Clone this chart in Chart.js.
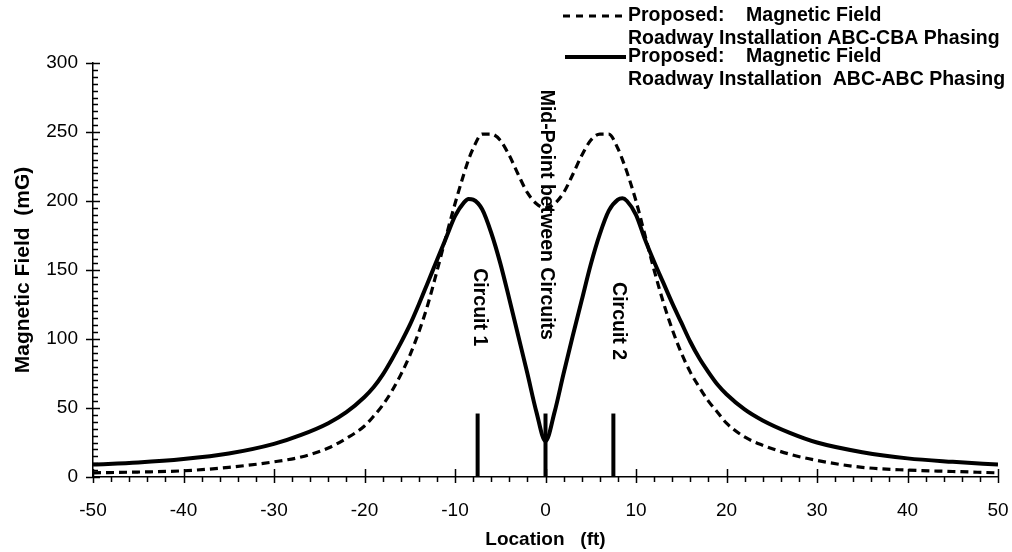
<!DOCTYPE html>
<html>
<head>
<meta charset="utf-8">
<title>Magnetic Field Profile</title>
<script src="https://cdn.jsdelivr.net/npm/chart.js@4.4.1/dist/chart.umd.min.js"></script>
<style>
  html, body { margin: 0; padding: 0; background: #fff; }
  #wrap { width: 1012px; height: 552px; }
</style>
</head>
<body>
<div id="wrap"><canvas id="fieldChart" width="1012" height="552"></canvas></div>
<script>
// distance from the roadway centreline (ft)
const locations = [-50, -45, -40, -35, -30, -27, -24, -22, -20, -19, -18, -17, -16, -15, -14, -13, -12, -11, -10, -9, -8.5, -8, -7, -6, -5, -4, -3, -2, -1, 0,
  1, 2, 3, 4, 5, 6, 7, 8, 8.5, 9, 10, 11, 12, 13, 14, 15, 16, 17, 18, 19, 20, 22, 24, 27, 30, 35, 40, 45, 50];

// ABC-CBA phasing (mG)
const fieldAbcCba = [3, 3.6, 4.5, 7, 11, 14.5, 21, 28, 37, 44, 52, 62, 74, 88, 105, 125, 149, 174, 198, 220, 230, 238, 248.5, 248.5, 244, 233, 219, 206, 198, 195,
  198, 206, 219, 233, 244, 248.5, 248.5, 238, 230, 221, 200, 175, 150, 127, 107, 90, 76, 65, 55, 47, 39, 29, 23, 16.5, 12, 7, 5, 4, 3];

// ABC-ABC phasing (mG)
const fieldAbcAbc = [9, 10.5, 13, 17, 24, 30.5, 39, 47, 58, 65, 74, 85, 97, 110, 125, 141, 157, 173, 189, 199, 201.5, 201, 194, 177, 155, 129, 102, 75, 47, 26,
  47, 75, 102, 128, 154, 176, 193, 201, 202, 200, 190, 172, 156, 141, 126, 112, 98, 86, 76, 67, 60, 49, 41, 32, 25, 18, 13.5, 11, 9];

// circuit centre lines and the mid-point marker
const circuitPositions = [-7.5, 0, 7.5];
const circuitMarkHeight = 46;

const xTickValues = [-50, -40, -30, -20, -10, 0, 10, 20, 30, 40, 50];
const yTickValues = [0, 50, 100, 150, 200, 250, 300];

const legendLines = [
  ['Proposed:    Magnetic Field', 'Roadway Installation ABC-CBA Phasing'],
  ['Proposed:    Magnetic Field', 'Roadway Installation  ABC-ABC Phasing']
];
const circuitLabels = ['Circuit 1', 'Mid-Point between Circuits', 'Circuit 2'];

const FONT = "'Liberation Sans', Arial, Helvetica, sans-serif";

function toPoints(xs, ys) {
  return xs.map((x, i) => ({ x: x, y: ys[i] }));
}

const datasets = [
  {
    label: 'ABC-CBA',
    data: toPoints(locations, fieldAbcCba),
    borderColor: '#000',
    borderWidth: 3.2,
    borderDash: [8, 5],
    pointRadius: 0,
    cubicInterpolationMode: 'monotone',
    fill: false
  },
  {
    label: 'ABC-ABC',
    data: toPoints(locations, fieldAbcAbc),
    borderColor: '#000',
    borderWidth: 4,
    pointRadius: 0,
    cubicInterpolationMode: 'monotone',
    fill: false
  }
];

circuitPositions.forEach((pos, i) => {
  datasets.push({
    label: 'marker' + i,
    data: [{ x: pos, y: 0 }, { x: pos, y: circuitMarkHeight }],
    borderColor: '#000',
    borderWidth: 4,
    pointRadius: 0,
    tension: 0,
    fill: false
  });
});

// tick marks crossing the axes plus minor ticks
const axisTicks = {
  id: 'axisTicks',
  afterDraw(chart) {
    const ctx = chart.ctx;
    const xs = chart.scales.x, ys = chart.scales.y;
    const ax = xs.left, ay = ys.bottom;
    ctx.save();
    ctx.strokeStyle = '#000';
    ctx.lineWidth = 1.5;
    ctx.beginPath();
    for (let v = -50; v <= 50; v += 2) {
      const px = Math.round(xs.getPixelForValue(v)) + 0.5;
      ctx.moveTo(px, ay - 1);
      ctx.lineTo(px, ay + 5);
    }
    xTickValues.forEach(v => {
      const px = Math.round(xs.getPixelForValue(v)) + 0.5;
      ctx.moveTo(px, ay - 8);
      ctx.lineTo(px, ay + 6);
    });
    for (let v = 0; v <= 300; v += 5) {
      const py = Math.round(ys.getPixelForValue(v)) + 0.5;
      ctx.moveTo(ax, py);
      ctx.lineTo(ax + 5, py);
    }
    yTickValues.forEach(v => {
      const py = Math.round(ys.getPixelForValue(v)) + 0.5;
      ctx.moveTo(ax - 7, py);
      ctx.lineTo(ax + 7, py);
    });
    ctx.stroke();
    ctx.restore();
  }
};

// vertical labels for the circuits and the mid-point
const circuitText = {
  id: 'circuitText',
  afterDatasetsDraw(chart) {
    const ctx = chart.ctx;
    const xs = chart.scales.x, ys = chart.scales.y;
    const spots = [[-7.3, 123], [0.15, 190], [8.1, 113]];
    ctx.save();
    ctx.fillStyle = '#000';
    ctx.font = 'bold 19.5px ' + FONT;
    ctx.textAlign = 'center';
    ctx.textBaseline = 'middle';
    circuitLabels.forEach((txt, i) => {
      const px = xs.getPixelForValue(spots[i][0]);
      const py = ys.getPixelForValue(spots[i][1]);
      ctx.save();
      ctx.translate(px, py);
      ctx.rotate(Math.PI / 2);
      ctx.fillText(txt, 0, 0);
      ctx.restore();
    });
    ctx.restore();
  }
};

// two-line legend in the top right corner
const sideLegend = {
  id: 'sideLegend',
  afterDraw(chart) {
    const ctx = chart.ctx;
    const rows = [
      { ds: chart.data.datasets[0], dash: [7, 6], lineY: 16, x0: 563, x1: 624, textY: [16, 39] },
      { ds: chart.data.datasets[1], dash: [], lineY: 57, x0: 565, x1: 626, textY: [57, 80] }
    ];
    ctx.save();
    ctx.fillStyle = '#000';
    ctx.strokeStyle = '#000';
    ctx.font = 'bold 19.5px ' + FONT;
    ctx.textAlign = 'left';
    ctx.textBaseline = 'middle';
    rows.forEach((r, i) => {
      ctx.lineWidth = r.ds.borderWidth;
      ctx.setLineDash(r.dash);
      ctx.beginPath();
      ctx.moveTo(r.x0, r.lineY);
      ctx.lineTo(r.x1, r.lineY);
      ctx.stroke();
      ctx.setLineDash([]);
      ctx.fillText(legendLines[i][0], 628, r.textY[0]);
      ctx.fillText(legendLines[i][1], 628, r.textY[1]);
    });
    ctx.restore();
  }
};

new Chart(document.getElementById('fieldChart'), {
  type: 'line',
  data: { datasets: datasets },
  options: {
    responsive: false,
    animation: false,
    devicePixelRatio: 1,
    layout: { padding: { top: 63, right: 14, left: 0, bottom: 0 } },
    plugins: {
      legend: { display: false },
      tooltip: { enabled: false }
    },
    scales: {
      x: {
        type: 'linear',
        min: -50,
        max: 50,
        afterFit(scale) { scale.height = 75; },
        // invisible tick marks only reserve room above the labels
        grid: { display: true, drawOnChartArea: false, drawTicks: true, tickLength: 20, color: 'rgba(0,0,0,0)' },
        border: { display: true, color: '#000', width: 1.5 },
        ticks: {
          stepSize: 10,
          padding: 2,
          color: '#000',
          font: { family: FONT, size: 19 }
        },
        title: {
          display: true,
          text: 'Location   (ft)',
          color: '#000',
          padding: 1,
          font: { family: FONT, size: 19, weight: 'bold' }
        }
      },
      y: {
        min: 0,
        max: 300,
        afterFit(scale) { scale.width = 93; },
        grid: { display: false, drawTicks: false },
        border: { display: true, color: '#000', width: 1.5 },
        ticks: {
          stepSize: 50,
          padding: 15,
          color: '#000',
          font: { family: FONT, size: 19 }
        },
        title: {
          display: true,
          text: 'Magnetic Field  (mG)',
          color: '#000',
          padding: 11,
          font: { family: FONT, size: 21, weight: 'bold' }
        }
      }
    }
  },
  plugins: [axisTicks, circuitText, sideLegend]
});
</script>
</body>
</html>
